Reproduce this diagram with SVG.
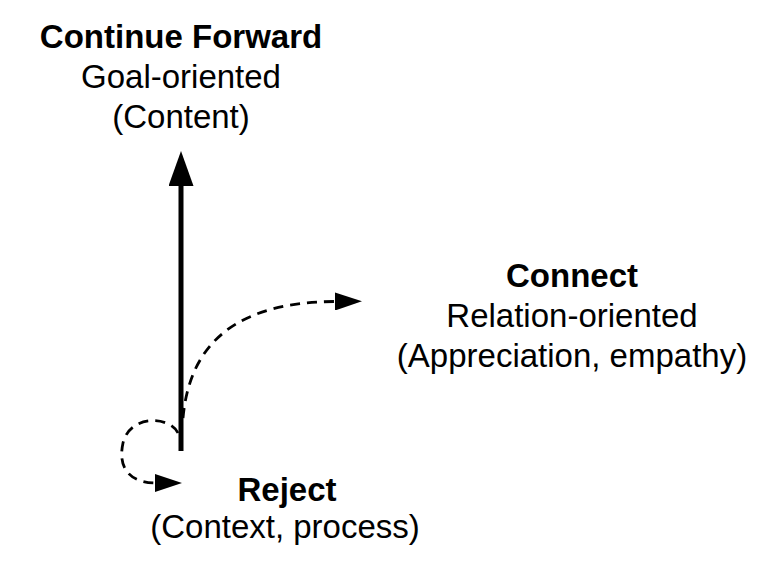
<svg xmlns="http://www.w3.org/2000/svg" width="780" height="570" viewBox="0 0 780 570">
  <style>
    .t { font-family: "Liberation Sans", Arial, Helvetica, sans-serif; font-size: 33px; fill: #000; text-anchor: middle; }
    .b { font-weight: bold; }
    .solid { fill: none; stroke: #000; stroke-width: 5; }
    .dash { fill: none; stroke: #000; stroke-width: 2.8; stroke-dasharray: 10 7; }
  </style>
  <defs>
    <marker id="headSolid" markerUnits="userSpaceOnUse" viewBox="0 0 35 25" markerWidth="35" markerHeight="25" refX="1" refY="12.5" orient="auto">
      <path d="M0,0 L35,12.5 L0,25 z" fill="#000"/>
    </marker>
    <marker id="headDash" markerUnits="userSpaceOnUse" viewBox="0 0 27 18" markerWidth="27" markerHeight="18" refX="1" refY="9" orient="auto">
      <path d="M0,0 L27,9 L0,18 z" fill="#000"/>
    </marker>
  </defs>
  <rect width="780" height="570" fill="#fff"/>
  <g id="connectors">
    <path id="to-forward" class="solid" d="M181,451 L181,185" marker-end="url(#headSolid)"/>
    <path id="to-connect" class="dash" d="M183,418 C190,340 240,302 336,301.5" marker-end="url(#headDash)"/>
    <path id="to-reject" class="dash" d="M178,433 C170,416 130,414 123,443 C117,470 132,483 156,483" marker-end="url(#headDash)"/>
  </g>
  <g id="node-forward">
    <text class="t b" x="181" y="48">Continue Forward</text>
    <text class="t" x="181" y="88">Goal-oriented</text>
    <text class="t" x="181" y="128">(Content)</text>
  </g>
  <g id="node-connect">
    <text class="t b" x="572" y="287">Connect</text>
    <text class="t" x="572" y="327">Relation-oriented</text>
    <text class="t" x="572" y="367">(Appreciation, empathy)</text>
  </g>
  <g id="node-reject">
    <text class="t b" x="287" y="501">Reject</text>
    <text class="t" x="285" y="538">(Context, process)</text>
  </g>
</svg>
